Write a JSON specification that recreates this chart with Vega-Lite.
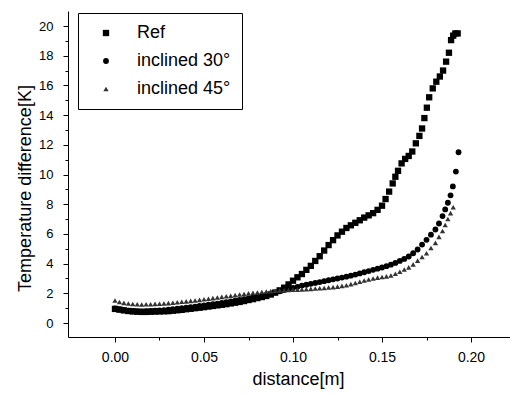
{
  "$schema": "https://vega.github.io/schema/vega-lite/v6.json",
  "autosize": {"type": "none"},
  "padding": {"left": 68, "top": 11, "right": 0, "bottom": 59},
  "width": 442,
  "height": 326,
  "background": "white",
  "config": {
    "font": "Liberation Sans",
    "view": {"stroke": null},
    "axis": {"labelColor": "black", "titleColor": "black", "domainColor": "black", "tickColor": "black", "grid": false, "titleFontWeight": "normal"}
  },
  "datasets": {
    "pts": [
      {"s":"Ref","x":0.0000,"y":0.95},{"s":"Ref","x":0.0025,"y":0.90},{"s":"Ref","x":0.0050,"y":0.85},{"s":"Ref","x":0.0075,"y":0.81},
      {"s":"Ref","x":0.0100,"y":0.78},{"s":"Ref","x":0.0125,"y":0.76},{"s":"Ref","x":0.0150,"y":0.75},{"s":"Ref","x":0.0175,"y":0.75},
      {"s":"Ref","x":0.0200,"y":0.76},{"s":"Ref","x":0.0225,"y":0.77},{"s":"Ref","x":0.0250,"y":0.78},{"s":"Ref","x":0.0275,"y":0.79},
      {"s":"Ref","x":0.0300,"y":0.80},{"s":"Ref","x":0.0325,"y":0.83},{"s":"Ref","x":0.0350,"y":0.86},{"s":"Ref","x":0.0375,"y":0.89},
      {"s":"Ref","x":0.0400,"y":0.93},{"s":"Ref","x":0.0425,"y":0.96},{"s":"Ref","x":0.0450,"y":1.00},{"s":"Ref","x":0.0475,"y":1.03},
      {"s":"Ref","x":0.0500,"y":1.07},{"s":"Ref","x":0.0525,"y":1.11},{"s":"Ref","x":0.0550,"y":1.15},{"s":"Ref","x":0.0575,"y":1.19},
      {"s":"Ref","x":0.0600,"y":1.23},{"s":"Ref","x":0.0625,"y":1.27},{"s":"Ref","x":0.0650,"y":1.32},{"s":"Ref","x":0.0675,"y":1.37},
      {"s":"Ref","x":0.0700,"y":1.42},{"s":"Ref","x":0.0725,"y":1.48},{"s":"Ref","x":0.0750,"y":1.55},{"s":"Ref","x":0.0775,"y":1.61},
      {"s":"Ref","x":0.0800,"y":1.68},{"s":"Ref","x":0.0825,"y":1.75},{"s":"Ref","x":0.0850,"y":1.82},{"s":"Ref","x":0.0875,"y":1.92},
      {"s":"Ref","x":0.0900,"y":2.05},{"s":"Ref","x":0.0925,"y":2.20},{"s":"Ref","x":0.0950,"y":2.38},{"s":"Ref","x":0.0975,"y":2.60},
      {"s":"Ref","x":0.1000,"y":2.85},{"s":"Ref","x":0.1025,"y":3.08},{"s":"Ref","x":0.1050,"y":3.30},{"s":"Ref","x":0.1075,"y":3.58},
      {"s":"Ref","x":0.1100,"y":3.85},{"s":"Ref","x":0.1125,"y":4.18},{"s":"Ref","x":0.1150,"y":4.50},{"s":"Ref","x":0.1175,"y":4.88},
      {"s":"Ref","x":0.1200,"y":5.25},{"s":"Ref","x":0.1225,"y":5.58},{"s":"Ref","x":0.1250,"y":5.90},{"s":"Ref","x":0.1275,"y":6.15},
      {"s":"Ref","x":0.1300,"y":6.40},{"s":"Ref","x":0.1325,"y":6.58},{"s":"Ref","x":0.1350,"y":6.75},{"s":"Ref","x":0.1375,"y":6.92},
      {"s":"Ref","x":0.1400,"y":7.10},{"s":"Ref","x":0.1425,"y":7.25},{"s":"Ref","x":0.1450,"y":7.40},{"s":"Ref","x":0.1475,"y":7.62},
      {"s":"Ref","x":0.1500,"y":7.90},{"s":"Ref","x":0.1520,"y":8.35},{"s":"Ref","x":0.1540,"y":8.85},{"s":"Ref","x":0.1560,"y":9.40},
      {"s":"Ref","x":0.1575,"y":9.85},{"s":"Ref","x":0.1590,"y":10.25},{"s":"Ref","x":0.1610,"y":10.75},{"s":"Ref","x":0.1630,"y":11.05},
      {"s":"Ref","x":0.1650,"y":11.25},{"s":"Ref","x":0.1670,"y":11.55},{"s":"Ref","x":0.1690,"y":12.10},{"s":"Ref","x":0.1710,"y":12.60},
      {"s":"Ref","x":0.1725,"y":13.10},{"s":"Ref","x":0.1738,"y":13.80},{"s":"Ref","x":0.1752,"y":14.50},{"s":"Ref","x":0.1765,"y":15.20},
      {"s":"Ref","x":0.1785,"y":15.80},{"s":"Ref","x":0.1805,"y":16.25},{"s":"Ref","x":0.1825,"y":16.60},{"s":"Ref","x":0.1843,"y":17.00},
      {"s":"Ref","x":0.1860,"y":17.60},{"s":"Ref","x":0.1876,"y":18.20},{"s":"Ref","x":0.1888,"y":19.05},{"s":"Ref","x":0.1900,"y":19.35},
      {"s":"Ref","x":0.1912,"y":19.50},{"s":"Ref","x":0.1925,"y":19.50},

      {"s":"inclined 30°","x":0.0000,"y":0.98},{"s":"inclined 30°","x":0.0025,"y":0.93},{"s":"inclined 30°","x":0.0050,"y":0.88},{"s":"inclined 30°","x":0.0075,"y":0.84},
      {"s":"inclined 30°","x":0.0100,"y":0.81},{"s":"inclined 30°","x":0.0125,"y":0.80},{"s":"inclined 30°","x":0.0150,"y":0.79},{"s":"inclined 30°","x":0.0175,"y":0.80},
      {"s":"inclined 30°","x":0.0200,"y":0.81},{"s":"inclined 30°","x":0.0225,"y":0.83},{"s":"inclined 30°","x":0.0250,"y":0.85},{"s":"inclined 30°","x":0.0275,"y":0.87},
      {"s":"inclined 30°","x":0.0300,"y":0.90},{"s":"inclined 30°","x":0.0325,"y":0.93},{"s":"inclined 30°","x":0.0350,"y":0.96},{"s":"inclined 30°","x":0.0375,"y":1.00},
      {"s":"inclined 30°","x":0.0400,"y":1.03},{"s":"inclined 30°","x":0.0425,"y":1.07},{"s":"inclined 30°","x":0.0450,"y":1.11},{"s":"inclined 30°","x":0.0475,"y":1.15},
      {"s":"inclined 30°","x":0.0500,"y":1.19},{"s":"inclined 30°","x":0.0525,"y":1.23},{"s":"inclined 30°","x":0.0550,"y":1.27},{"s":"inclined 30°","x":0.0575,"y":1.31},
      {"s":"inclined 30°","x":0.0600,"y":1.35},{"s":"inclined 30°","x":0.0625,"y":1.40},{"s":"inclined 30°","x":0.0650,"y":1.45},{"s":"inclined 30°","x":0.0675,"y":1.50},
      {"s":"inclined 30°","x":0.0700,"y":1.55},{"s":"inclined 30°","x":0.0725,"y":1.60},{"s":"inclined 30°","x":0.0750,"y":1.66},{"s":"inclined 30°","x":0.0775,"y":1.72},
      {"s":"inclined 30°","x":0.0800,"y":1.78},{"s":"inclined 30°","x":0.0825,"y":1.84},{"s":"inclined 30°","x":0.0850,"y":1.90},{"s":"inclined 30°","x":0.0875,"y":1.97},
      {"s":"inclined 30°","x":0.0900,"y":2.05},{"s":"inclined 30°","x":0.0925,"y":2.14},{"s":"inclined 30°","x":0.0950,"y":2.22},{"s":"inclined 30°","x":0.0975,"y":2.30},
      {"s":"inclined 30°","x":0.1000,"y":2.37},{"s":"inclined 30°","x":0.1025,"y":2.44},{"s":"inclined 30°","x":0.1050,"y":2.52},{"s":"inclined 30°","x":0.1075,"y":2.58},
      {"s":"inclined 30°","x":0.1100,"y":2.64},{"s":"inclined 30°","x":0.1125,"y":2.70},{"s":"inclined 30°","x":0.1150,"y":2.76},{"s":"inclined 30°","x":0.1175,"y":2.82},
      {"s":"inclined 30°","x":0.1200,"y":2.88},{"s":"inclined 30°","x":0.1225,"y":2.94},{"s":"inclined 30°","x":0.1250,"y":3.00},{"s":"inclined 30°","x":0.1275,"y":3.06},
      {"s":"inclined 30°","x":0.1300,"y":3.12},{"s":"inclined 30°","x":0.1325,"y":3.19},{"s":"inclined 30°","x":0.1350,"y":3.26},{"s":"inclined 30°","x":0.1375,"y":3.34},
      {"s":"inclined 30°","x":0.1400,"y":3.42},{"s":"inclined 30°","x":0.1425,"y":3.50},{"s":"inclined 30°","x":0.1450,"y":3.58},{"s":"inclined 30°","x":0.1475,"y":3.66},
      {"s":"inclined 30°","x":0.1500,"y":3.74},{"s":"inclined 30°","x":0.1525,"y":3.83},{"s":"inclined 30°","x":0.1550,"y":3.93},{"s":"inclined 30°","x":0.1575,"y":4.05},
      {"s":"inclined 30°","x":0.1600,"y":4.18},{"s":"inclined 30°","x":0.1625,"y":4.32},{"s":"inclined 30°","x":0.1650,"y":4.48},{"s":"inclined 30°","x":0.1675,"y":4.70},
      {"s":"inclined 30°","x":0.1700,"y":4.95},{"s":"inclined 30°","x":0.1725,"y":5.28},{"s":"inclined 30°","x":0.1750,"y":5.60},{"s":"inclined 30°","x":0.1775,"y":5.95},
      {"s":"inclined 30°","x":0.1800,"y":6.30},{"s":"inclined 30°","x":0.1820,"y":6.70},{"s":"inclined 30°","x":0.1840,"y":7.20},{"s":"inclined 30°","x":0.1855,"y":7.65},
      {"s":"inclined 30°","x":0.1870,"y":8.10},{"s":"inclined 30°","x":0.1885,"y":8.60},{"s":"inclined 30°","x":0.1898,"y":9.20},{"s":"inclined 30°","x":0.1915,"y":10.20},
      {"s":"inclined 30°","x":0.1930,"y":11.50},

      {"s":"inclined 45°","x":0.0000,"y":1.52},{"s":"inclined 45°","x":0.0025,"y":1.42},{"s":"inclined 45°","x":0.0050,"y":1.36},{"s":"inclined 45°","x":0.0075,"y":1.31},
      {"s":"inclined 45°","x":0.0100,"y":1.28},{"s":"inclined 45°","x":0.0125,"y":1.26},{"s":"inclined 45°","x":0.0150,"y":1.25},{"s":"inclined 45°","x":0.0175,"y":1.26},
      {"s":"inclined 45°","x":0.0200,"y":1.27},{"s":"inclined 45°","x":0.0225,"y":1.29},{"s":"inclined 45°","x":0.0250,"y":1.30},{"s":"inclined 45°","x":0.0275,"y":1.32},
      {"s":"inclined 45°","x":0.0300,"y":1.34},{"s":"inclined 45°","x":0.0325,"y":1.37},{"s":"inclined 45°","x":0.0350,"y":1.40},{"s":"inclined 45°","x":0.0375,"y":1.43},
      {"s":"inclined 45°","x":0.0400,"y":1.46},{"s":"inclined 45°","x":0.0425,"y":1.49},{"s":"inclined 45°","x":0.0450,"y":1.52},{"s":"inclined 45°","x":0.0475,"y":1.56},
      {"s":"inclined 45°","x":0.0500,"y":1.60},{"s":"inclined 45°","x":0.0525,"y":1.64},{"s":"inclined 45°","x":0.0550,"y":1.68},{"s":"inclined 45°","x":0.0575,"y":1.72},
      {"s":"inclined 45°","x":0.0600,"y":1.76},{"s":"inclined 45°","x":0.0625,"y":1.80},{"s":"inclined 45°","x":0.0650,"y":1.84},{"s":"inclined 45°","x":0.0675,"y":1.88},
      {"s":"inclined 45°","x":0.0700,"y":1.92},{"s":"inclined 45°","x":0.0725,"y":1.96},{"s":"inclined 45°","x":0.0750,"y":2.00},{"s":"inclined 45°","x":0.0775,"y":2.03},
      {"s":"inclined 45°","x":0.0800,"y":2.06},{"s":"inclined 45°","x":0.0825,"y":2.09},{"s":"inclined 45°","x":0.0850,"y":2.12},{"s":"inclined 45°","x":0.0875,"y":2.15},
      {"s":"inclined 45°","x":0.0900,"y":2.17},{"s":"inclined 45°","x":0.0925,"y":2.19},{"s":"inclined 45°","x":0.0950,"y":2.21},{"s":"inclined 45°","x":0.0975,"y":2.23},
      {"s":"inclined 45°","x":0.1000,"y":2.24},{"s":"inclined 45°","x":0.1025,"y":2.25},{"s":"inclined 45°","x":0.1050,"y":2.26},{"s":"inclined 45°","x":0.1075,"y":2.28},
      {"s":"inclined 45°","x":0.1100,"y":2.30},{"s":"inclined 45°","x":0.1125,"y":2.32},{"s":"inclined 45°","x":0.1150,"y":2.34},{"s":"inclined 45°","x":0.1175,"y":2.36},
      {"s":"inclined 45°","x":0.1200,"y":2.39},{"s":"inclined 45°","x":0.1225,"y":2.42},{"s":"inclined 45°","x":0.1250,"y":2.45},{"s":"inclined 45°","x":0.1275,"y":2.50},
      {"s":"inclined 45°","x":0.1300,"y":2.55},{"s":"inclined 45°","x":0.1325,"y":2.62},{"s":"inclined 45°","x":0.1350,"y":2.70},{"s":"inclined 45°","x":0.1375,"y":2.78},
      {"s":"inclined 45°","x":0.1400,"y":2.86},{"s":"inclined 45°","x":0.1425,"y":2.93},{"s":"inclined 45°","x":0.1450,"y":3.00},{"s":"inclined 45°","x":0.1475,"y":3.06},
      {"s":"inclined 45°","x":0.1500,"y":3.10},{"s":"inclined 45°","x":0.1525,"y":3.14},{"s":"inclined 45°","x":0.1550,"y":3.20},{"s":"inclined 45°","x":0.1575,"y":3.32},
      {"s":"inclined 45°","x":0.1600,"y":3.45},{"s":"inclined 45°","x":0.1625,"y":3.60},{"s":"inclined 45°","x":0.1650,"y":3.75},{"s":"inclined 45°","x":0.1675,"y":3.95},
      {"s":"inclined 45°","x":0.1700,"y":4.20},{"s":"inclined 45°","x":0.1725,"y":4.45},{"s":"inclined 45°","x":0.1750,"y":4.70},{"s":"inclined 45°","x":0.1775,"y":5.05},
      {"s":"inclined 45°","x":0.1800,"y":5.40},{"s":"inclined 45°","x":0.1820,"y":5.80},{"s":"inclined 45°","x":0.1840,"y":6.20},{"s":"inclined 45°","x":0.1855,"y":6.60},
      {"s":"inclined 45°","x":0.1870,"y":7.00},{"s":"inclined 45°","x":0.1885,"y":7.40},{"s":"inclined 45°","x":0.1900,"y":7.80}
    ]
  },
  "data": {"name": "pts"},
  "resolve": {"axis": {"x": "independent", "y": "independent"}},
  "layer": [
    {
      "mark": {"type": "point", "opacity": 0},
      "encoding": {
        "x": {"field": "x", "type": "quantitative", "scale": {"domain": [-0.0264, 0.2219], "nice": false, "zero": false},
              "axis": {"orient": "bottom", "values": [0.025, 0.075, 0.125, 0.175], "labels": false, "domain": false, "tickSize": 3, "title": null}},
        "y": {"field": "y", "type": "quantitative", "scale": {"domain": [-0.94, 21.01], "nice": false, "zero": false},
              "axis": {"orient": "left", "values": [1, 3, 5, 7, 9, 11, 13, 15, 17, 19], "labels": false, "domain": false, "tickSize": 3, "title": null}}
      }
    },
    {
      "mark": {"type": "point", "filled": true, "opacity": 1},
      "encoding": {
        "x": {"field": "x", "type": "quantitative",
              "axis": {"orient": "bottom", "values": [0, 0.05, 0.1, 0.15, 0.2], "format": ".2f", "tickSize": 5, "labelFontSize": 14, "labelPadding": 8,
                       "title": "distance[m]", "titleFontSize": 18, "titlePadding": 6, "titleX": 230}},
        "y": {"field": "y", "type": "quantitative",
              "axis": {"orient": "left", "values": [0, 2, 4, 6, 8, 10, 12, 14, 16, 18, 20], "tickSize": 5, "labelFontSize": 13, "labelPadding": 10,
                       "title": "Temperature difference[K]", "titleFontSize": 18, "titlePadding": 4, "titleY": 177}},
        "color": {"field": "s", "type": "nominal", "sort": ["Ref", "inclined 30°", "inclined 45°"],
                  "scale": {"domain": ["Ref", "inclined 30°", "inclined 45°"], "range": ["#000000", "#000000", "#333333"]},
                  "legend": {"title": null, "orient": "none", "legendX": 10, "legendY": 2, "strokeColor": "black", "fillColor": "white",
                             "padding": 11, "labelFontSize": 18, "labelColor": "black", "labelOffset": 22, "symbolOffset": 8, "rowPadding": 10, "labelLimit": 300}},
        "shape": {"field": "s", "type": "nominal",
                  "scale": {"domain": ["Ref", "inclined 30°", "inclined 45°"], "range": ["square", "circle", "triangle-up"]}},
        "size": {"field": "s", "type": "nominal",
                 "scale": {"domain": ["Ref", "inclined 30°", "inclined 45°"], "range": [40, 28, 14]}}
      }
    }
  ]
}
